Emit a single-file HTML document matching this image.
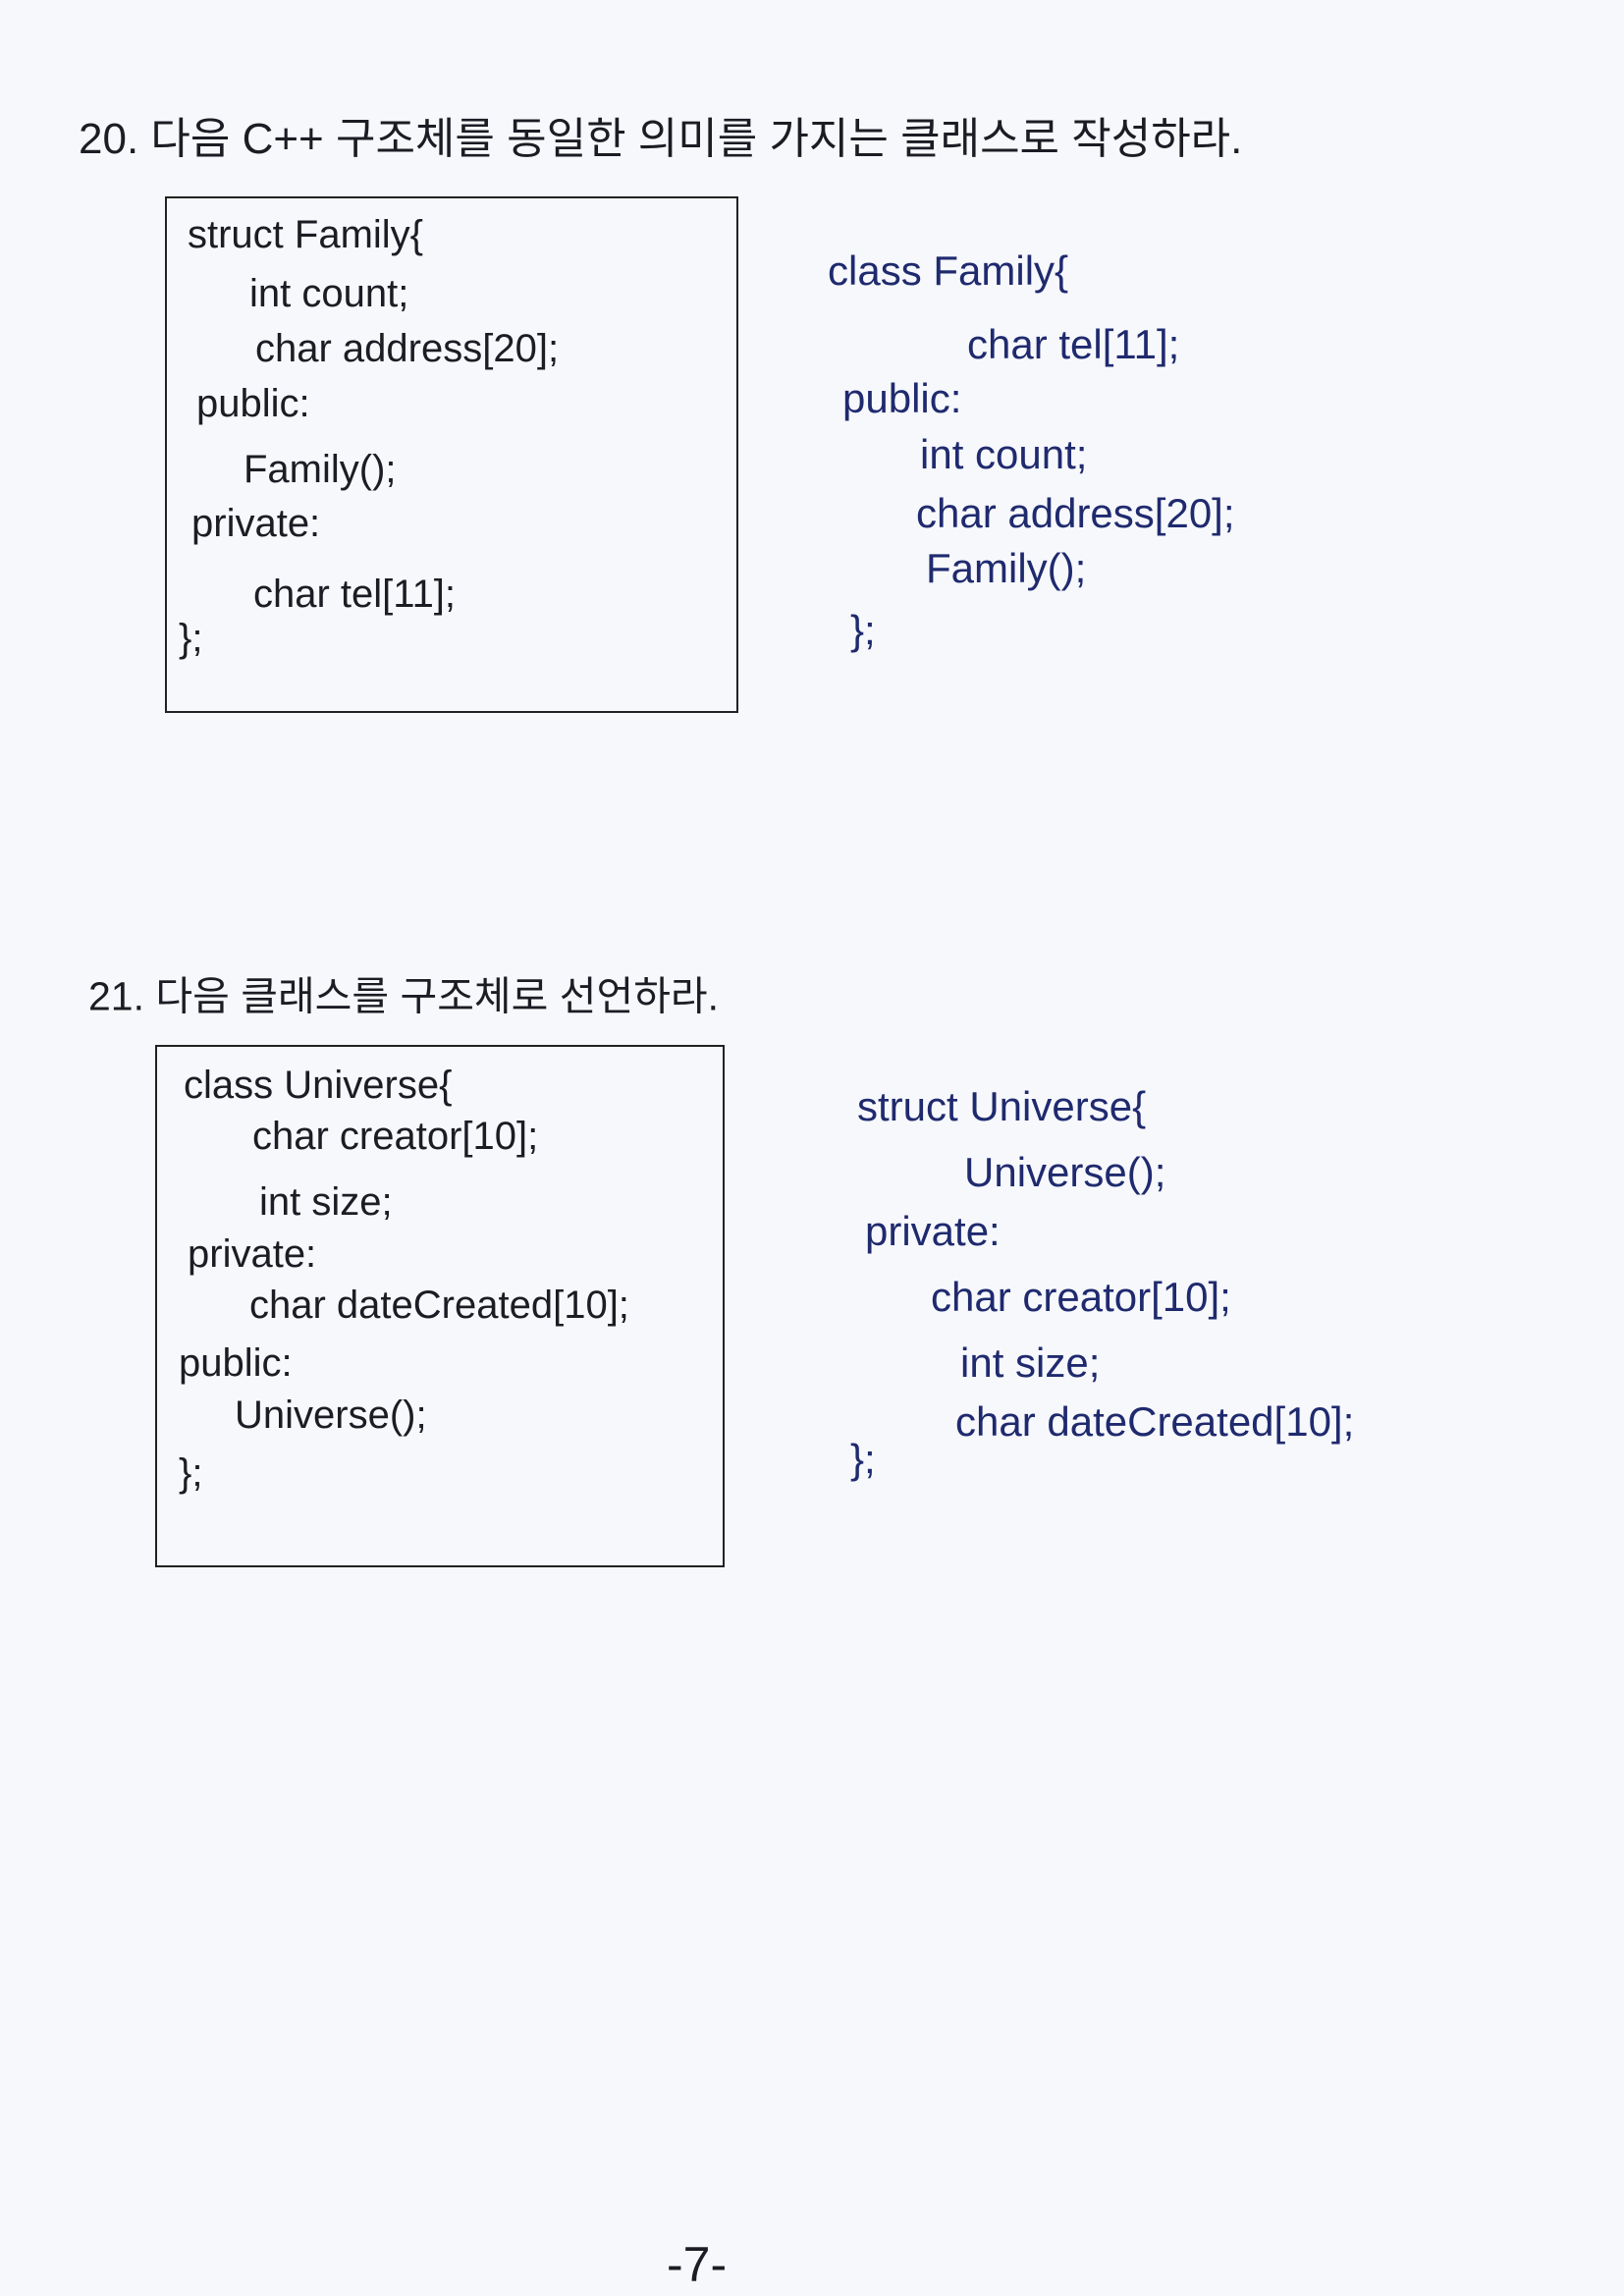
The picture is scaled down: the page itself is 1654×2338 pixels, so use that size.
<!DOCTYPE html>
<html><head><meta charset="utf-8"><style>
html,body{margin:0;padding:0}
body{width:1654px;height:2338px;background:#f7f8fc;position:relative;overflow:hidden;font-family:"Liberation Sans","Noto Sans CJK KR",sans-serif}
.t{position:absolute;white-space:nowrap;line-height:1;transform:translateY(-50%)}
.k{color:#1c1c24;font-size:40px}
.b{color:#1f2a6e;font-size:42px}
.q{color:#1c1c24;font-size:50px}
.box{position:absolute;border:2px solid #222;}
</style></head><body>
<div class="t q" style="left:80px;top:142px;font-size:44px">20. 다음 C++ 구조체를 동일한 의미를 가지는 클래스로 작성하라.</div>
<div class="box" style="left:168px;top:200px;width:580px;height:522px"></div>
<div class="t k" style="left:191px;top:239px">struct Family{</div>
<div class="t k" style="left:254px;top:299px">int count;</div>
<div class="t k" style="left:260px;top:355px">char address[20];</div>
<div class="t k" style="left:200px;top:411px">public:</div>
<div class="t k" style="left:248px;top:478px">Family();</div>
<div class="t k" style="left:195px;top:533px">private:</div>
<div class="t k" style="left:258px;top:605px">char tel[11];</div>
<div class="t k" style="left:182px;top:650px">};</div>

<div class="t b" style="left:843px;top:276px">class Family{</div>
<div class="t b" style="left:985px;top:351px">char tel[11];</div>
<div class="t b" style="left:858px;top:406px">public:</div>
<div class="t b" style="left:937px;top:463px">int count;</div>
<div class="t b" style="left:933px;top:523px">char address[20];</div>
<div class="t b" style="left:943px;top:579px">Family();</div>
<div class="t b" style="left:866px;top:642px">};</div>

<div class="t q" style="left:90px;top:1015px;font-size:41px">21. 다음 클래스를 구조체로 선언하라.</div>
<div class="box" style="left:158px;top:1064px;width:576px;height:528px"></div>
<div class="t k" style="left:187px;top:1105px">class Universe{</div>
<div class="t k" style="left:257px;top:1157px">char creator[10];</div>
<div class="t k" style="left:264px;top:1224px">int size;</div>
<div class="t k" style="left:191px;top:1277px">private:</div>
<div class="t k" style="left:254px;top:1329px">char dateCreated[10];</div>
<div class="t k" style="left:182px;top:1388px">public:</div>
<div class="t k" style="left:239px;top:1441px">Universe();</div>
<div class="t k" style="left:182px;top:1500px">};</div>

<div class="t b" style="left:873px;top:1127px">struct Universe{</div>
<div class="t b" style="left:982px;top:1194px">Universe();</div>
<div class="t b" style="left:881px;top:1254px">private:</div>
<div class="t b" style="left:948px;top:1321px">char creator[10];</div>
<div class="t b" style="left:978px;top:1388px">int size;</div>
<div class="t b" style="left:973px;top:1448px">char dateCreated[10];</div>
<div class="t b" style="left:866px;top:1486px">};</div>

<div class="t q" style="left:679px;top:2306px">-7-</div>
</body></html>
